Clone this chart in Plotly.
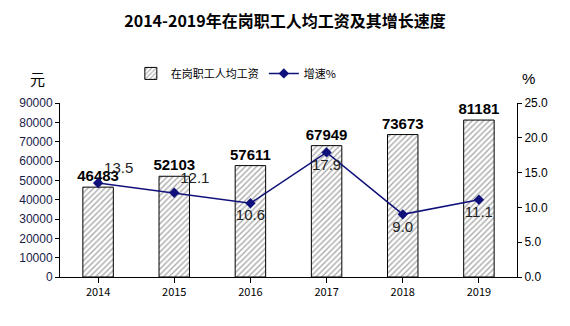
import plotly.graph_objects as go

years = ["2014", "2015", "2016", "2017", "2018", "2019"]
wages = [46483, 52103, 57611, 67949, 73673, 81181]
growth = [13.5, 12.1, 10.6, 17.9, 9.0, 11.1]
growth_pos = ["top right", "top right", "bottom center", "bottom center", "bottom center", "bottom center"]

fig = go.Figure()

fig.add_trace(go.Bar(
    x=years, y=wages, name="在岗职工人均工资",
    width=0.4,
    marker=dict(color="white", line=dict(color="black", width=1),
                pattern=dict(shape="/", fgcolor="#555555", bgcolor="white", size=4, solidity=0.35)),
    text=[str(v) for v in wages], textposition="outside", cliponaxis=False,
    constraintext="none",
    textfont=dict(family="Arial, Liberation Sans", size=15, color="black", weight="bold"),
))

fig.add_trace(go.Scatter(
    x=years, y=growth, name="增速%", yaxis="y2",
    mode="lines+markers+text",
    line=dict(color="#10107a", width=1.5),
    marker=dict(symbol="diamond", size=8, color="#10107a"),
    text=[f"{v:.1f}" for v in growth], textposition=growth_pos,
    textfont=dict(family="Arial, Liberation Sans", size=15, color="#222222"),
    cliponaxis=False,
))

fig.update_layout(
    width=570, height=326,
    margin=dict(l=60, r=53, t=103, b=49),
    paper_bgcolor="white", plot_bgcolor="white",
    showlegend=True,
    bargap=0.6,
    title=dict(text="<b>2014-2019年在岗职工人均工资及其增长速度</b>",
               x=0.5, xanchor="center", y=0.935, yanchor="middle",
               font=dict(family="Noto Sans CJK SC", size=16, color="black")),
    legend=dict(orientation="h", x=0.155, y=1.17, xanchor="left", yanchor="middle",
                font=dict(family="Noto Sans CJK SC", size=11, color="black"),
                itemwidth=30, bgcolor="rgba(0,0,0,0)"),
    xaxis=dict(showline=True, linecolor="black", linewidth=1, ticks="outside",
               ticklen=5, tickcolor="black", showgrid=False,
               tickfont=dict(family="Noto Sans CJK SC", size=11, color="black")),
    yaxis=dict(range=[0, 90000], dtick=10000, showline=True, linecolor="black",
               linewidth=1, ticks="outside", ticklen=4, tickcolor="black",
               showgrid=False, zeroline=False, tickformat="d",
               tickfont=dict(family="Arial, Liberation Sans", size=12, color="#1a1a4a")),
    yaxis2=dict(range=[0, 25], dtick=5, overlaying="y", side="right",
                showline=True, linecolor="black", linewidth=1, ticks="outside",
                ticklen=4, tickcolor="black", showgrid=False, zeroline=False,
                tickformat=".1f",
                tickfont=dict(family="Arial, Liberation Sans", size=12, color="black")),
    annotations=[
        dict(text="元", x=28, y=66, xref="paper", yref="paper", showarrow=False,
             font=dict(family="Noto Sans CJK SC", size=15, color="black")),
        dict(text="%", x=537, y=68, xref="paper", yref="paper", showarrow=False,
             font=dict(family="Arial, Liberation Sans", size=15, color="black")),
    ],
)

# place the unit labels in pixel terms relative to the plot area
plot_l, plot_r, plot_t, plot_b = 60, 517, 103, 277
for ann in fig.layout.annotations:
    ann.x = (ann.x - plot_l) / (plot_r - plot_l)
    ann.y = (plot_b - ann.y) / (plot_b - plot_t)

fig.write_html("out.html")
